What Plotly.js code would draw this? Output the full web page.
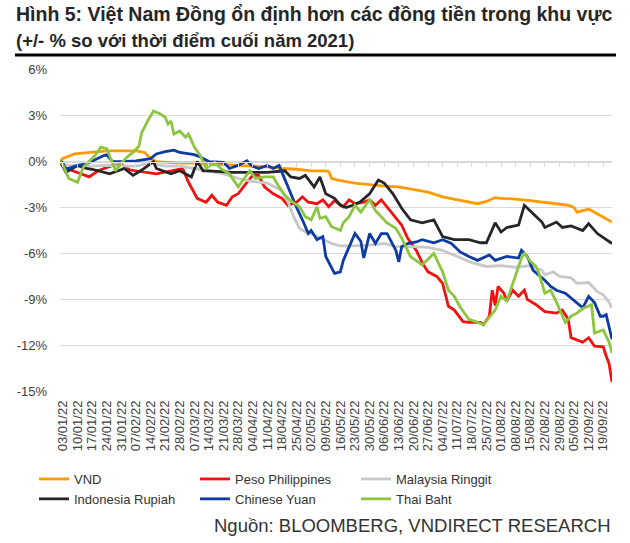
<!DOCTYPE html>
<html><head><meta charset="utf-8">
<script src="https://cdn.plot.ly/plotly-3.0.1.min.js"></script>
<style>html,body{margin:0;padding:0;background:#fff}#chart{width:630px;height:543px}</style>
</head><body><div id="chart"></div>
<script>
// ---- tick labels (weekly, Mondays) ----
const tickLabels = ['03/01/22','10/01/22','17/01/22','24/01/22','31/01/22','07/02/22','14/02/22','21/02/22','28/02/22','07/03/22','14/03/22','21/03/22','28/03/22','04/04/22','11/04/22','18/04/22','25/04/22','02/05/22','09/05/22','16/05/22','23/05/22','30/05/22','06/06/22','13/06/22','20/06/22','27/06/22','04/07/22','11/07/22','18/07/22','25/07/22','01/08/22','08/08/22','15/08/22','22/08/22','29/08/22','05/09/22','12/09/22','19/09/22'];

// ---- series (% change vs end of 2021) ----
const vndDates = ['2021-12-31','2022-01-03','2022-01-07','2022-01-17','2022-01-24','2022-01-31','2022-02-07','2022-02-10','2022-02-14','2022-02-16','2022-02-21','2022-02-28','2022-03-07','2022-03-14','2022-03-21','2022-03-28','2022-04-04','2022-04-11','2022-04-18','2022-04-25','2022-05-02','2022-05-09','2022-05-10','2022-05-11','2022-05-16','2022-05-23','2022-05-30','2022-06-06','2022-06-13','2022-06-20','2022-06-27','2022-07-04','2022-07-11','2022-07-18','2022-07-20','2022-07-25','2022-07-28','2022-08-01','2022-08-08','2022-08-15','2022-08-22','2022-08-29','2022-09-01','2022-09-05','2022-09-06','2022-09-12','2022-09-14','2022-09-19','2022-09-22'];
const vndValues = [0,0.2,0.5,0.6,0.7,0.7,0.7,0.6,0.2,0.0,-0.05,-0.1,-0.1,-0.2,-0.2,-0.25,-0.3,-0.35,-0.45,-0.5,-0.6,-0.6,-0.65,-1.1,-1.25,-1.4,-1.5,-1.6,-1.65,-1.85,-2.0,-2.3,-2.5,-2.65,-2.75,-2.6,-2.35,-2.4,-2.45,-2.55,-2.65,-2.75,-2.85,-3.0,-3.3,-3.1,-3.3,-3.6,-3.95];

const phpDates = ['2021-12-31','2022-01-03','2022-01-05','2022-01-10','2022-01-14','2022-01-19','2022-01-26','2022-01-31','2022-02-03','2022-02-16','2022-02-24','2022-03-01','2022-03-03','2022-03-08','2022-03-11','2022-03-15','2022-03-17','2022-03-22','2022-03-24','2022-03-28','2022-03-31','2022-04-04','2022-04-06','2022-04-08','2022-04-13','2022-04-18','2022-04-20','2022-04-25','2022-04-27','2022-04-29','2022-05-04','2022-05-06','2022-05-10','2022-05-12','2022-05-17','2022-05-19','2022-05-23','2022-05-26','2022-05-30','2022-06-01','2022-06-03','2022-06-08','2022-06-10','2022-06-14','2022-06-16','2022-06-21','2022-06-23','2022-06-27','2022-06-30','2022-07-04','2022-07-06','2022-07-08','2022-07-13','2022-07-15','2022-07-21','2022-07-22','2022-07-26','2022-07-27','2022-07-28','2022-07-29','2022-08-02','2022-08-03','2022-08-05','2022-08-09','2022-08-11','2022-08-12','2022-08-17','2022-08-22','2022-08-26','2022-08-30','2022-09-01','2022-09-02','2022-09-08','2022-09-12','2022-09-14','2022-09-19','2022-09-20','2022-09-21','2022-09-22'];
const phpValues = [0,-0.3,-0.5,-0.7,-1.0,-0.6,-0.25,-0.2,-0.55,-0.8,-0.55,-0.45,-1.35,-2.4,-2.65,-2.2,-2.65,-2.85,-2.3,-2.1,-1.35,-0.9,-0.9,-1.65,-2.1,-2.4,-2.85,-2.65,-2.3,-2.65,-2.75,-2.5,-2.95,-2.55,-2.95,-2.5,-2.75,-2.65,-2.5,-2.85,-2.5,-3.2,-3.7,-4.15,-5.0,-5.8,-6.6,-7.2,-7.5,-7.95,-9.45,-9.7,-10.45,-10.5,-10.5,-10.65,-10.1,-8.4,-9.4,-8.15,-8.6,-9.1,-8.4,-8.8,-8.4,-9.0,-9.35,-9.8,-9.9,-9.7,-10.3,-11.5,-11.8,-11.5,-12.05,-12.1,-12.7,-13.2,-14.4];

const myrDates = ['2021-12-31','2022-01-03','2022-01-10','2022-01-17','2022-01-24','2022-01-31','2022-02-07','2022-02-14','2022-02-21','2022-02-28','2022-03-07','2022-03-14','2022-03-21','2022-03-28','2022-04-04','2022-04-11','2022-04-18','2022-04-20','2022-04-22','2022-04-26','2022-04-28','2022-05-02','2022-05-06','2022-05-11','2022-05-16','2022-05-23','2022-05-30','2022-06-06','2022-06-10','2022-06-13','2022-06-20','2022-06-27','2022-07-04','2022-07-11','2022-07-18','2022-07-25','2022-08-01','2022-08-08','2022-08-15','2022-08-19','2022-08-22','2022-08-25','2022-08-29','2022-09-02','2022-09-06','2022-09-12','2022-09-15','2022-09-19','2022-09-21','2022-09-22'];
const myrValues = [0,-0.2,-0.3,-0.3,-0.25,-0.3,-0.3,-0.1,-0.3,-0.3,-0.45,-0.6,-0.8,-1.1,-1.3,-1.4,-1.9,-2.6,-3.6,-4.35,-4.6,-4.7,-5.1,-5.35,-5.5,-5.5,-5.45,-5.35,-5.55,-5.55,-5.55,-5.6,-5.8,-6.2,-6.6,-6.85,-6.8,-6.9,-6.8,-7.1,-7.4,-7.2,-7.5,-7.6,-7.95,-7.9,-8.5,-8.7,-9.2,-9.55];

const idrDates = ['2021-12-31','2022-01-03','2022-01-04','2022-01-10','2022-01-13','2022-01-17','2022-01-25','2022-02-01','2022-02-04','2022-02-09','2022-02-15','2022-02-16','2022-02-23','2022-02-28','2022-03-04','2022-03-08','2022-03-10','2022-03-14','2022-03-24','2022-04-11','2022-04-19','2022-04-21','2022-04-26','2022-04-28','2022-05-03','2022-05-05','2022-05-09','2022-05-12','2022-05-16','2022-05-18','2022-05-23','2022-05-25','2022-05-30','2022-06-02','2022-06-06','2022-06-09','2022-06-14','2022-06-17','2022-06-23','2022-06-29','2022-07-04','2022-07-08','2022-07-15','2022-07-21','2022-07-25','2022-07-28','2022-08-01','2022-08-03','2022-08-09','2022-08-11','2022-08-16','2022-08-19','2022-08-22','2022-08-26','2022-08-30','2022-09-02','2022-09-08','2022-09-12','2022-09-15','2022-09-19','2022-09-22'];
const idrValues = [0,-0.3,-0.7,-0.25,-0.45,-0.5,-0.8,-0.45,-0.9,-0.55,0.0,-0.45,-0.8,-0.6,-1.0,0.0,-0.6,-0.6,-0.7,-0.7,-0.6,-1.0,-1.1,-0.9,-1.65,-1.0,-2.1,-2.4,-2.85,-3.0,-2.8,-2.6,-2.1,-1.2,-1.4,-2.1,-3.05,-3.8,-4.0,-3.8,-4.9,-5.1,-5.1,-5.3,-5.3,-4.0,-4.6,-4.3,-4.15,-2.85,-3.4,-3.95,-4.3,-3.95,-4.3,-4.2,-4.5,-4.05,-4.7,-4.95,-5.35];

const cnyDates = ['2021-12-31','2022-01-03','2022-01-04','2022-01-10','2022-01-13','2022-01-17','2022-01-21','2022-01-24','2022-01-26','2022-01-31','2022-02-07','2022-02-14','2022-02-16','2022-02-21','2022-02-24','2022-02-28','2022-03-07','2022-03-09','2022-03-14','2022-03-21','2022-03-23','2022-03-28','2022-03-31','2022-04-01','2022-04-04','2022-04-06','2022-04-11','2022-04-13','2022-04-15','2022-04-18','2022-04-20','2022-04-22','2022-04-25','2022-04-27','2022-04-29','2022-05-02','2022-05-04','2022-05-06','2022-05-09','2022-05-12','2022-05-16','2022-05-17','2022-05-19','2022-05-23','2022-05-25','2022-05-26','2022-05-30','2022-06-01','2022-06-03','2022-06-07','2022-06-10','2022-06-13','2022-06-14','2022-06-16','2022-06-21','2022-06-23','2022-06-29','2022-07-04','2022-07-07','2022-07-12','2022-07-15','2022-07-20','2022-07-26','2022-07-28','2022-08-03','2022-08-09','2022-08-10','2022-08-12','2022-08-16','2022-08-18','2022-08-19','2022-08-22','2022-08-24','2022-08-26','2022-08-31','2022-09-02','2022-09-06','2022-09-08','2022-09-12','2022-09-14','2022-09-16','2022-09-19','2022-09-20','2022-09-21','2022-09-22'];
const cnyValues = [0,-0.1,-0.5,-0.25,-0.15,0.05,0.4,0.45,0.0,0.0,0.05,0.2,0.5,0.65,0.75,0.6,0.45,0.3,0.0,-0.05,-0.45,-0.25,0.05,-0.15,-0.3,-0.45,-0.25,-0.45,-0.25,-0.7,-1.65,-2.5,-3.0,-3.8,-4.7,-4.5,-5.1,-4.9,-6.2,-7.3,-7.2,-6.45,-5.55,-4.7,-5.2,-6.3,-4.7,-5.35,-4.7,-4.7,-5.8,-6.55,-5.55,-5.35,-5.25,-5.1,-5.3,-5.1,-5.35,-5.9,-6.2,-6.45,-6.1,-6.45,-6.2,-6.3,-5.8,-6.2,-7.1,-7.4,-7.6,-7.75,-8.15,-8.4,-8.6,-8.9,-9.2,-9.55,-8.8,-9.2,-10.1,-10.1,-10.0,-10.8,-11.6];

const thbDates = ['2021-12-31','2022-01-03','2022-01-05','2022-01-07','2022-01-10','2022-01-12','2022-01-18','2022-01-20','2022-01-24','2022-01-27','2022-01-31','2022-02-02','2022-02-04','2022-02-08','2022-02-09','2022-02-11','2022-02-15','2022-02-17','2022-02-21','2022-02-22','2022-02-23','2022-02-24','2022-02-28','2022-03-02','2022-03-03','2022-03-07','2022-03-09','2022-03-11','2022-03-16','2022-03-18','2022-03-23','2022-03-28','2022-03-31','2022-04-01','2022-04-05','2022-04-08','2022-04-13','2022-04-15','2022-04-19','2022-04-21','2022-04-26','2022-04-28','2022-05-02','2022-05-04','2022-05-05','2022-05-09','2022-05-11','2022-05-16','2022-05-17','2022-05-19','2022-05-23','2022-05-25','2022-05-27','2022-05-30','2022-06-01','2022-06-03','2022-06-07','2022-06-10','2022-06-14','2022-06-17','2022-06-21','2022-06-23','2022-06-29','2022-07-04','2022-07-06','2022-07-08','2022-07-12','2022-07-15','2022-07-20','2022-07-22','2022-07-28','2022-08-01','2022-08-03','2022-08-05','2022-08-10','2022-08-11','2022-08-15','2022-08-17','2022-08-18','2022-08-22','2022-08-24','2022-08-26','2022-08-31','2022-09-02','2022-09-06','2022-09-08','2022-09-12','2022-09-13','2022-09-14','2022-09-19','2022-09-21','2022-09-22'];
const thbValues = [0,-0.2,-1.1,-1.25,-1.35,-0.35,0.4,0.95,0.85,-0.6,-0.1,0.3,0.6,1.0,1.9,2.65,3.3,3.15,2.9,2.45,2.65,1.8,2.0,1.6,1.8,0.95,0.4,-0.45,-0.05,-0.45,-0.8,-1.65,-0.8,-0.6,-1.1,-1.0,-1.0,-1.65,-2.2,-2.55,-2.95,-3.6,-3.8,-2.95,-3.7,-3.6,-4.25,-4.5,-4.0,-3.6,-2.85,-3.3,-2.75,-2.5,-3.2,-3.6,-4.0,-4.35,-5.0,-6.2,-6.5,-6.75,-6.0,-7.2,-8.4,-8.8,-9.5,-10.3,-10.5,-10.65,-9.7,-8.8,-9.1,-8.0,-6.3,-6.0,-6.5,-6.85,-7.3,-8.6,-8.4,-9.2,-10.5,-10.1,-9.9,-9.6,-9.4,-9.35,-11.2,-11.0,-11.8,-12.5];

const seriesNames = ['VND','Peso Philippines','Malaysia Ringgit','Indonesia Rupiah','Chinese Yuan','Thai Baht'];
const seriesColors = ['#FF9A00','#F21010','#C8C8C8','#262626','#0D3BA3','#8CC63F'];
const seriesDates = [vndDates, phpDates, myrDates, idrDates, cnyDates, thbDates];
const seriesValues = [vndValues, phpValues, myrValues, idrValues, cnyValues, thbValues];
const yTicks = [-15,-12,-9,-6,-3,0,3,6];
const titleLines = ['Hình 5: Việt Nam Đồng ổn định hơn các đồng tiền trong khu vực', '(+/- % so với thời điểm cuối năm 2021)'];
const sourceText = 'Nguồn: BLOOMBERG, VNDIRECT RESEARCH';

// ---- build ----
const tickVals = tickLabels.map(s => { const p = s.split('/'); return '20' + p[2] + '-' + p[1] + '-' + p[0]; });
const FONT = '"Liberation Sans", Arial, sans-serif';
const xRange = ['2021-12-31', '2022-09-22'];
const yRange = [-15.05, 6.05];
const zeroFrac = (0 - yRange[0]) / (yRange[1] - yRange[0]);
const breaks = [{bounds: ['sat', 'mon']}];

const traces = seriesNames.map((n, i) => ({
  type: 'scatter', mode: 'lines', name: n,
  x: seriesDates[i], y: seriesValues[i],
  line: {color: seriesColors[i], width: 2.8, shape: 'linear'},
  hoverinfo: 'skip'
}));
// helper trace so the zero-line axis (x2) with its tick marks is drawn
traces.unshift({type: 'scatter', mode: 'lines', x: [tickVals[0]], y: [null], xaxis: 'x2', showlegend: false, hoverinfo: 'skip'});

const PL = 60, PR = 18, PT = 69, PB = 151, W = 630, H = 543;
const pw = W - PL - PR, ph = H - PT - PB;
const px2paper = x => (x - PL) / pw;
const py2paper = y => (H - PB - y) / ph;

const layout = {
  width: W, height: H,
  margin: {l: PL, r: PR, t: PT, b: PB, pad: 0},
  paper_bgcolor: '#ffffff', plot_bgcolor: '#ffffff',
  font: {family: FONT, color: '#404040'},
  showlegend: true,
  legend: {
    orientation: 'h', x: px2paper(34), y: py2paper(464), xanchor: 'left', yanchor: 'top',
    font: {family: FONT, size: 13, color: '#333333'},
    entrywidth: 116, entrywidthmode: 'pixels', itemwidth: 30, tracegroupgap: 0,
    bgcolor: 'rgba(0,0,0,0)', traceorder: 'normal'
  },
  xaxis: {
    type: 'date', range: xRange, rangebreaks: breaks,
    tickmode: 'array', tickvals: tickVals, ticktext: tickLabels, tickangle: -90,
    tickfont: {family: FONT, size: 13, color: '#404040'},
    showgrid: false, zeroline: false, showline: false, ticks: '', ticklabelstandoff: 5,
    fixedrange: true
  },
  xaxis2: {
    type: 'date', range: xRange, rangebreaks: breaks, overlaying: 'x', anchor: 'free', position: zeroFrac,
    tickmode: 'array', tickvals: tickVals, showticklabels: false,
    ticks: 'outside', ticklen: 4, tickwidth: 1, tickcolor: '#D9D9D9',
    showline: true, linecolor: '#D9D9D9', linewidth: 1, showgrid: false, zeroline: false
  },
  yaxis: {
    range: yRange, tickmode: 'array', tickvals: yTicks, ticktext: yTicks.map(v => v + '%'),
    tickfont: {family: FONT, size: 13, color: '#404040'},
    showgrid: true, gridcolor: '#D9D9D9', gridwidth: 1, zeroline: false, showline: false,
    ticks: '', ticklabelstandoff: 12, fixedrange: true
  },
  shapes: [{
    type: 'line', xref: 'paper', yref: 'paper',
    x0: px2paper(15), x1: px2paper(616), y0: py2paper(55), y1: py2paper(55),
    line: {color: '#000000', width: 3}
  }],
  annotations: [
    {text: '<b>' + titleLines[0] + '</b>', xref: 'paper', yref: 'paper', x: px2paper(14), y: py2paper(14),
     xanchor: 'left', yanchor: 'middle', showarrow: false, font: {family: FONT, size: 19.5, color: '#262626'}},
    {text: '<b>' + titleLines[1] + '</b>', xref: 'paper', yref: 'paper', x: px2paper(14), y: py2paper(40),
     xanchor: 'left', yanchor: 'middle', showarrow: false, font: {family: FONT, size: 18.5, color: '#262626'}},
    {text: sourceText, xref: 'paper', yref: 'paper',
     x: px2paper(613), y: py2paper(525), xanchor: 'right', yanchor: 'middle', showarrow: false,
     font: {family: FONT, size: 18.5, color: '#333333'}}
  ]
};

Plotly.newPlot('chart', traces, layout, {displayModeBar: false, staticPlot: true});
</script></body></html>
